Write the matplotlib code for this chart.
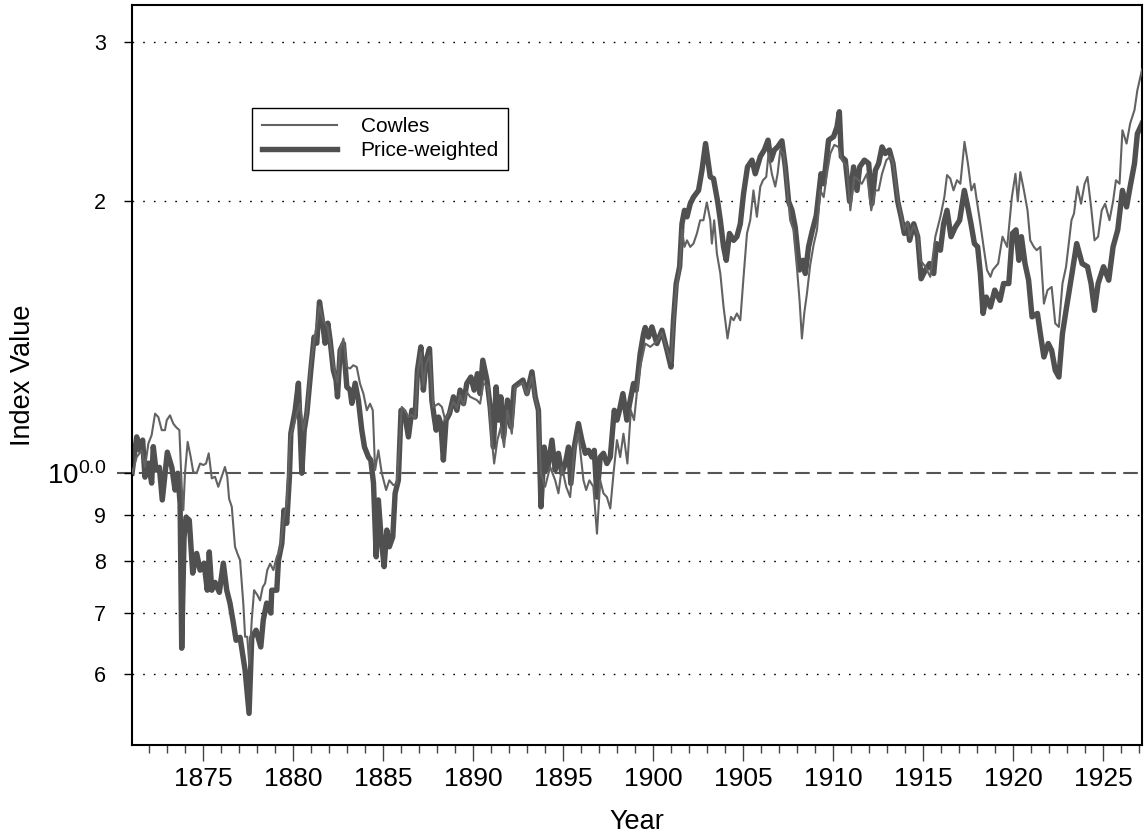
import matplotlib
matplotlib.use('Agg')
import matplotlib.pyplot as plt
from matplotlib.ticker import FixedLocator, NullFormatter

plt.rcParams['font.family'] = ['Liberation Sans', 'DejaVu Sans']
plt.rcParams['mathtext.fontset'] = 'custom'
plt.rcParams['mathtext.rm'] = 'Liberation Sans'

# Price-weighted index
pw_year = [1871.06, 1871.32, 1871.50, 1871.65, 1871.78, 1871.97, 1872.15, 1872.24, 1872.39, 1872.58,
           1872.74, 1873.02, 1873.27, 1873.45, 1873.60, 1873.73, 1873.82, 1873.95, 1874.06, 1874.24,
           1874.43, 1874.65, 1874.84, 1875.06, 1875.24, 1875.35, 1875.49, 1875.67, 1875.91, 1876.13,
           1876.32, 1876.50, 1876.69, 1876.84, 1877.06, 1877.34, 1877.56, 1877.71, 1877.95, 1878.21,
           1878.35, 1878.54, 1878.77, 1878.82, 1879.10, 1879.19, 1879.38, 1879.50, 1879.65, 1879.80,
           1879.88, 1880.12, 1880.30, 1880.49, 1880.62, 1880.77, 1880.99, 1881.17, 1881.32, 1881.47,
           1881.65, 1881.78, 1881.93, 1882.06, 1882.24, 1882.39, 1882.47, 1882.62, 1882.80, 1882.99,
           1883.17, 1883.27, 1883.45, 1883.63, 1883.82, 1883.97, 1884.19, 1884.32, 1884.47, 1884.62,
           1884.74, 1884.89, 1885.06, 1885.21, 1885.35, 1885.54, 1885.67, 1885.85, 1886.00, 1886.23,
           1886.41, 1886.60, 1886.78, 1886.91, 1887.10, 1887.24, 1887.39, 1887.58, 1887.71, 1887.84,
           1887.95, 1888.08, 1888.21, 1888.35, 1888.50, 1888.69, 1888.91, 1889.10, 1889.28, 1889.47,
           1889.65, 1889.88, 1890.06, 1890.24, 1890.39, 1890.54, 1890.77, 1890.95, 1891.13, 1891.28,
           1891.41, 1891.54, 1891.69, 1891.91, 1892.10, 1892.28, 1892.52, 1892.77, 1892.99, 1893.27,
           1893.45, 1893.63, 1893.77, 1893.95, 1894.13, 1894.38, 1894.56, 1894.74, 1894.93, 1895.12,
           1895.30, 1895.43, 1895.62, 1895.85, 1896.04, 1896.23, 1896.41, 1896.60, 1896.73, 1896.88,
           1897.06, 1897.24, 1897.43, 1897.62, 1897.84, 1897.99, 1898.13, 1898.32, 1898.54, 1898.69,
           1898.91, 1899.06, 1899.28, 1899.47, 1899.56, 1899.74, 1899.93, 1900.21, 1900.49, 1900.77,
           1900.99, 1901.13, 1901.28, 1901.47, 1901.60, 1901.74, 1901.88, 1902.06, 1902.24, 1902.52,
           1902.71, 1902.91, 1903.17, 1903.35, 1903.58, 1903.73, 1903.91, 1904.06, 1904.24, 1904.47,
           1904.65, 1904.84, 1905.02, 1905.24, 1905.49, 1905.67, 1905.95, 1906.17, 1906.38, 1906.54,
           1906.73, 1906.91, 1907.15, 1907.34, 1907.52, 1907.71, 1907.89, 1908.13, 1908.32, 1908.45,
           1908.63, 1908.82, 1909.06, 1909.32, 1909.47, 1909.74, 1910.02, 1910.21, 1910.34, 1910.45,
           1910.67, 1910.91, 1911.13, 1911.32, 1911.47, 1911.73, 1911.97, 1912.15, 1912.34, 1912.52,
           1912.71, 1912.89, 1913.12, 1913.32, 1913.58, 1913.77, 1913.95, 1914.13, 1914.24, 1914.47,
           1914.69, 1914.88, 1915.12, 1915.35, 1915.58, 1915.73, 1915.95, 1916.13, 1916.32, 1916.54,
           1916.78, 1917.02, 1917.28, 1917.47, 1917.65, 1917.84, 1918.02, 1918.17, 1918.32, 1918.50,
           1918.73, 1918.97, 1919.26, 1919.46, 1919.75, 1919.95, 1920.15, 1920.31, 1920.45, 1920.65,
           1920.85, 1921.04, 1921.34, 1921.50, 1921.70, 1921.94, 1922.13, 1922.33, 1922.53, 1922.73,
           1922.93, 1923.23, 1923.52, 1923.82, 1924.12, 1924.32, 1924.51, 1924.71, 1925.01, 1925.30,
           1925.54, 1925.80, 1926.06, 1926.29, 1926.49, 1926.73, 1926.89, 1927.15]
pw_value = [1.000, 1.097, 1.060, 1.088, 0.990, 1.026, 0.975, 1.070, 1.008, 1.015,
            0.934, 1.055, 1.015, 0.958, 1.000, 0.926, 0.640, 0.849, 0.894, 0.887,
            0.775, 0.815, 0.781, 0.795, 0.742, 0.818, 0.742, 0.757, 0.738, 0.795,
            0.742, 0.718, 0.682, 0.653, 0.658, 0.605, 0.542, 0.658, 0.670, 0.642,
            0.688, 0.718, 0.700, 0.742, 0.742, 0.800, 0.836, 0.910, 0.880, 0.990,
            1.107, 1.174, 1.258, 1.000, 1.116, 1.165, 1.300, 1.415, 1.393, 1.548,
            1.466, 1.393, 1.466, 1.404, 1.300, 1.268, 1.215, 1.368, 1.392, 1.246,
            1.236, 1.195, 1.258, 1.205, 1.116, 1.069, 1.042, 1.034, 0.975, 0.808,
            0.934, 0.850, 0.788, 0.865, 0.829, 0.850, 0.950, 0.982, 1.174, 1.154,
            1.097, 1.174, 1.154, 1.300, 1.380, 1.236, 1.334, 1.374, 1.205, 1.154,
            1.116, 1.154, 1.135, 1.034, 1.145, 1.164, 1.215, 1.174, 1.236, 1.194,
            1.257, 1.278, 1.236, 1.289, 1.225, 1.334, 1.268, 1.184, 1.069, 1.246,
            1.145, 1.215, 1.097, 1.205, 1.125, 1.246, 1.257, 1.268, 1.225, 1.295,
            1.215, 1.174, 0.918, 1.069, 1.008, 1.088, 1.008, 1.052, 1.000, 1.025,
            1.069, 0.974, 1.069, 1.135, 1.088, 1.052, 1.060, 1.042, 1.060, 0.941,
            1.042, 1.052, 1.025, 1.042, 1.174, 1.145, 1.174, 1.225, 1.145, 1.194,
            1.257, 1.236, 1.357, 1.428, 1.450, 1.415, 1.452, 1.392, 1.440, 1.368,
            1.311, 1.477, 1.622, 1.693, 1.889, 1.955, 1.923, 1.988, 2.022, 2.057,
            2.165, 2.318, 2.129, 2.120, 2.000, 1.906, 1.781, 1.721, 1.843, 1.811,
            1.828, 1.889, 2.040, 2.184, 2.222, 2.146, 2.242, 2.280, 2.338, 2.222,
            2.280, 2.298, 2.334, 2.184, 2.000, 1.955, 1.873, 1.679, 1.721, 1.664,
            1.781, 1.850, 1.930, 2.146, 2.092, 2.338, 2.359, 2.419, 2.514, 2.242,
            2.222, 2.000, 2.184, 2.057, 2.184, 2.222, 2.203, 1.988, 2.165, 2.203,
            2.298, 2.260, 2.280, 2.203, 2.000, 1.923, 1.843, 1.889, 1.811, 1.889,
            1.828, 1.642, 1.679, 1.707, 1.664, 1.796, 1.766, 1.889, 1.955, 1.828,
            1.873, 1.906, 2.057, 1.972, 1.889, 1.796, 1.781, 1.664, 1.503, 1.567,
            1.528, 1.595, 1.554, 1.622, 1.622, 1.843, 1.860, 1.721, 1.828, 1.707,
            1.636, 1.490, 1.503, 1.428, 1.345, 1.392, 1.368, 1.300, 1.278, 1.428,
            1.515, 1.650, 1.796, 1.707, 1.693, 1.622, 1.515, 1.622, 1.693, 1.636,
            1.781, 1.860, 2.057, 1.972, 2.077, 2.203, 2.377, 2.440]

# Cowles index
cw_year = [1871.06, 1871.32, 1871.60, 1871.78, 1871.97, 1872.15, 1872.34, 1872.52, 1872.71, 1872.89,
           1872.99, 1873.17, 1873.35, 1873.50, 1873.69, 1873.82, 1873.91, 1874.00, 1874.15, 1874.32,
           1874.46, 1874.65, 1874.84, 1875.02, 1875.17, 1875.32, 1875.49, 1875.67, 1875.85, 1876.04,
           1876.22, 1876.35, 1876.45, 1876.60, 1876.78, 1876.91, 1877.06, 1877.24, 1877.34, 1877.46,
           1877.57, 1877.71, 1877.84, 1878.02, 1878.17, 1878.32, 1878.45, 1878.57, 1878.73, 1878.91,
           1879.10, 1879.28, 1879.46, 1879.65, 1879.84, 1880.02, 1880.21, 1880.39, 1880.57, 1880.76,
           1880.95, 1881.17, 1881.47, 1881.65, 1881.93, 1882.24, 1882.47, 1882.62, 1882.80, 1882.99,
           1883.17, 1883.35, 1883.54, 1883.72, 1883.91, 1884.10, 1884.28, 1884.43, 1884.56, 1884.74,
           1884.93, 1885.17, 1885.35, 1885.57, 1885.76, 1885.91, 1886.04, 1886.23, 1886.41, 1886.60,
           1886.78, 1886.91, 1887.10, 1887.24, 1887.39, 1887.58, 1887.79, 1888.08, 1888.27, 1888.45,
           1888.69, 1888.91, 1889.10, 1889.28, 1889.47, 1889.65, 1889.84, 1890.21, 1890.39, 1890.57,
           1890.84, 1891.04, 1891.17, 1891.35, 1891.54, 1891.72, 1891.91, 1892.15, 1892.34, 1892.52,
           1892.77, 1892.99, 1893.27, 1893.45, 1893.63, 1893.77, 1894.00, 1894.28, 1894.56, 1894.74,
           1894.93, 1895.17, 1895.39, 1895.62, 1895.85, 1896.13, 1896.28, 1896.46, 1896.68, 1896.88,
           1897.06, 1897.24, 1897.43, 1897.62, 1897.80, 1897.99, 1898.17, 1898.35, 1898.57, 1898.76,
           1898.94, 1899.09, 1899.28, 1899.56, 1899.84, 1900.21, 1900.49, 1900.77, 1900.99, 1901.13,
           1901.28, 1901.47, 1901.60, 1901.74, 1901.88, 1902.06, 1902.24, 1902.43, 1902.61, 1902.79,
           1902.98, 1903.17, 1903.26, 1903.39, 1903.54, 1903.73, 1903.91, 1904.13, 1904.32, 1904.47,
           1904.65, 1904.84, 1905.02, 1905.21, 1905.39, 1905.57, 1905.76, 1905.95, 1906.10, 1906.28,
           1906.41, 1906.59, 1906.78, 1906.91, 1907.06, 1907.24, 1907.43, 1907.61, 1907.79, 1907.98,
           1908.13, 1908.26, 1908.39, 1908.54, 1908.72, 1908.91, 1909.10, 1909.28, 1909.47, 1909.65,
           1909.84, 1910.06, 1910.29, 1910.48, 1910.76, 1910.95, 1911.17, 1911.41, 1911.59, 1911.87,
           1912.11, 1912.34, 1912.52, 1912.71, 1912.95, 1913.17, 1913.32, 1913.58, 1913.77, 1913.95,
           1914.13, 1914.24, 1914.47, 1914.69, 1914.84, 1915.12, 1915.39, 1915.67, 1915.95, 1916.17,
           1916.32, 1916.50, 1916.68, 1916.87, 1917.06, 1917.29, 1917.48, 1917.67, 1917.84, 1917.98,
           1918.17, 1918.35, 1918.54, 1918.73, 1918.86, 1919.16, 1919.40, 1919.66, 1919.92, 1920.12,
           1920.25, 1920.39, 1920.59, 1920.79, 1920.94, 1921.14, 1921.30, 1921.50, 1921.70, 1921.90,
           1922.13, 1922.33, 1922.53, 1922.73, 1922.93, 1923.23, 1923.37, 1923.56, 1923.76, 1923.96,
           1924.12, 1924.32, 1924.51, 1924.71, 1924.91, 1925.10, 1925.34, 1925.54, 1925.70, 1925.90,
           1926.06, 1926.29, 1926.49, 1926.73, 1926.89, 1927.15]
cw_value = [1.000, 1.042, 1.060, 1.016, 1.079, 1.102, 1.164, 1.154, 1.116, 1.116,
            1.145, 1.159, 1.135, 1.125, 1.116, 0.966, 0.910, 1.000, 1.083, 1.042,
            1.003, 1.000, 1.025, 1.021, 1.025, 1.052, 0.987, 0.991, 0.966, 0.991,
            1.016, 0.991, 0.937, 0.918, 0.829, 0.815, 0.801, 0.717, 0.659, 0.659,
            0.615, 0.688, 0.742, 0.733, 0.723, 0.748, 0.755, 0.781, 0.794, 0.781,
            0.808, 0.822, 0.887, 0.926, 1.097, 1.125, 1.164, 1.194, 1.116, 1.164,
            1.300, 1.400, 1.530, 1.480, 1.450, 1.320, 1.260, 1.370, 1.410, 1.311,
            1.306, 1.317, 1.311, 1.257, 1.225, 1.174, 1.194, 1.174, 1.008, 1.060,
            1.000, 0.958, 0.982, 0.970, 0.974, 1.069, 1.184, 1.174, 1.154, 1.160,
            1.150, 1.280, 1.360, 1.250, 1.320, 1.350, 1.184, 1.194, 1.184, 1.145,
            1.170, 1.200, 1.180, 1.220, 1.190, 1.230, 1.215, 1.205, 1.194, 1.257,
            1.246, 1.088, 1.025, 1.088, 1.125, 1.069, 1.174, 1.106, 1.246, 1.250,
            1.260, 1.220, 1.280, 1.210, 1.174, 1.000, 0.966, 1.016, 0.982, 0.950,
            1.016, 0.966, 0.941, 1.060, 1.106, 0.982, 0.958, 0.982, 0.966, 0.857,
            0.982, 0.950, 0.941, 0.914, 1.000, 1.088, 1.042, 1.106, 1.025, 1.174,
            1.145, 1.225, 1.311, 1.392, 1.380, 1.400, 1.430, 1.370, 1.330, 1.460,
            1.600, 1.680, 1.860, 1.781, 1.811, 1.781, 1.796, 1.843, 1.906, 1.906,
            1.995, 1.906, 1.796, 1.906, 1.751, 1.664, 1.528, 1.410, 1.490, 1.477,
            1.503, 1.477, 1.650, 1.843, 1.906, 2.057, 1.923, 2.077, 2.111, 2.129,
            2.260, 2.146, 2.077, 2.146, 2.280, 2.260, 2.077, 1.906, 1.860, 1.693,
            1.554, 1.410, 1.503, 1.581, 1.700, 1.790, 1.860, 2.057, 2.022, 2.146,
            2.260, 2.310, 2.298, 2.222, 2.184, 1.955, 2.129, 2.111, 2.092, 2.146,
            1.955, 2.057, 2.057, 2.146, 2.222, 2.242, 2.210, 2.020, 1.930, 1.860,
            1.900, 1.830, 1.880, 1.840, 1.721, 1.693, 1.650, 1.828, 1.923, 2.022,
            2.139, 2.120, 2.057, 2.111, 2.092, 2.328, 2.203, 2.057, 2.092, 2.000,
            1.889, 1.781, 1.679, 1.650, 1.679, 1.707, 1.828, 1.781, 2.022, 2.146,
            2.000, 2.155, 2.057, 1.955, 1.811, 1.781, 1.766, 1.781, 1.541, 1.595,
            1.608, 1.465, 1.452, 1.622, 1.693, 1.906, 1.939, 2.077, 1.988, 2.092,
            2.129, 1.972, 1.811, 1.828, 1.955, 1.988, 1.906, 2.000, 2.111, 2.092,
            2.398, 2.318, 2.440, 2.525, 2.656, 2.800]

major_years = [1875, 1880, 1885, 1890, 1895, 1900, 1905, 1910, 1915, 1920, 1925]
minor_years = list(range(1872, 1928))
y_ticks = [0.6, 0.7, 0.8, 0.9, 1.0, 2.0, 3.0]
y_labels = ['6', '7', '8', '9', r'$\mathregular{10^{0.0}}$', '2', '3']
dotted_levels = [0.6, 0.7, 0.8, 0.9, 2.0, 3.0]

fig = plt.figure(figsize=(11.44, 8.4), dpi=100)
ax = fig.add_axes([0.1154, 0.1131, 0.8829, 0.8809])

for lev in dotted_levels:
    ax.axhline(lev, color='black', lw=1.0, linestyle=(0, (1.2, 6.5)), zorder=1)
ax.axhline(1.0, xmin=-0.015, xmax=1, color='#555555', lw=1.5,
           linestyle=(0, (7, 3.5)), zorder=1, clip_on=False)

ax.plot(pw_year, pw_value, color='#505050', lw=3.9, label='Price-weighted', zorder=2)
ax.plot(cw_year, cw_value, color='#626262', lw=1.5, label='Cowles', zorder=3)

ax.set_yscale('log')
ax.set_ylim(0.5, 3.3)
ax.set_xlim(pw_year[0], pw_year[-1])

ax.yaxis.set_major_locator(FixedLocator(y_ticks))
ax.yaxis.set_minor_locator(FixedLocator([]))
ax.yaxis.set_minor_formatter(NullFormatter())
ax.set_yticklabels(y_labels)
for lab in ax.get_yticklabels():
    lab.set_fontsize(20 if 'mathregular' in lab.get_text() else 15.5)
ax.tick_params(axis='y', which='major', direction='out', length=5.5, width=1,
               color='black', pad=13)

ax.set_xticks(major_years)
ax.set_xticks(minor_years, minor=True)
ax.set_xticklabels([str(y) for y in major_years])
ax.tick_params(axis='x', which='major', direction='out', length=11.5, width=1,
               color='#444444', labelsize=19, pad=4)
ax.tick_params(axis='x', which='minor', direction='out', length=5.5, width=1,
               color='#444444')

for sp in ax.spines.values():
    sp.set_linewidth(1.5)
    sp.set_color('black')

ax.set_xlabel('Year', fontsize=19.5)
ax.set_ylabel('Index Value', fontsize=19.5)
ax.xaxis.set_label_coords(0.5, -0.086)
ax.yaxis.set_label_coords(-0.095, 0.5)

handles, labels = ax.get_legend_handles_labels()
leg = ax.legend(handles[::-1], labels[::-1], loc='upper left',
                bbox_to_anchor=(0.119, 0.861), fontsize=15, frameon=True,
                fancybox=False, edgecolor='black', framealpha=1,
                handlelength=3.6, handletextpad=1.15, labelspacing=0.25,
                borderpad=0.45, borderaxespad=0)
leg.get_frame().set_linewidth(1.0)

fig.savefig('out.png', dpi=100)
